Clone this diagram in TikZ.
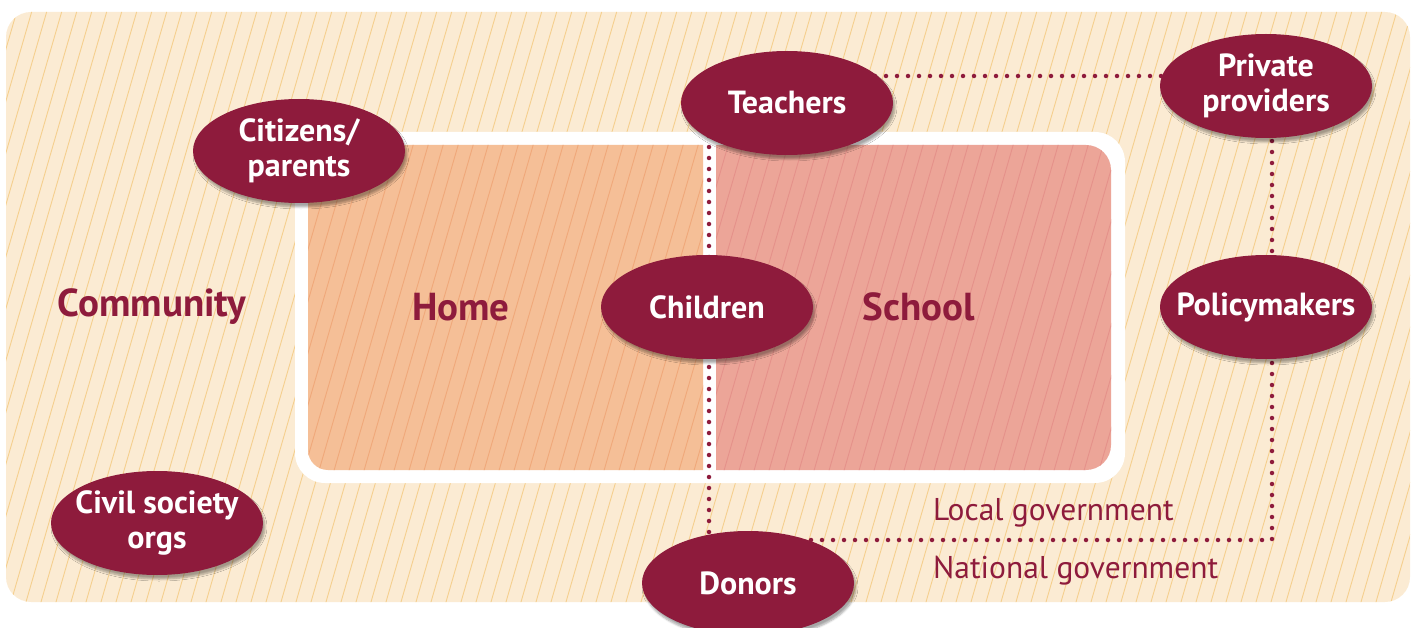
\documentclass[tikz,border=0pt]{standalone}
\usepackage{fontspec}
\setmainfont{PT Sans}
\usetikzlibrary{shapes.geometric,shadows.blur}
\definecolor{maroon}{HTML}{8E1B3C}
\definecolor{bgfill}{HTML}{FBEBD3}
\definecolor{bghatch}{HTML}{F5CF8E}
\definecolor{homefill}{HTML}{F5BF97}
\definecolor{homehatch}{HTML}{F0A87A}
\definecolor{schoolfill}{HTML}{ECA598}
\definecolor{schoolhatch}{HTML}{E5918A}
\newcommand\myhatch[1]{\foreach \i in {-14,...,95}{\draw[#1, line width=0.9pt] ({\i*15},640) -- ({\i*15+188},-10);}}
\begin{document}
\begin{tikzpicture}[x=1pt,y=-1pt,
 actor/.style={ellipse, fill=maroon, text=white, minimum width=212pt, minimum height=104pt,
   inner xsep=-40pt, inner ysep=-6pt, align=center,
   font=\fontsize{32}{35}\selectfont\bfseries,
   blur shadow={shadow xshift=2pt, shadow yshift=-4pt, shadow opacity=35, shadow blur steps=6}},
 area/.style={text=maroon, font=\fontsize{39}{42}\selectfont\bfseries},
 level/.style={text=maroon, font=\fontsize{31.5}{34}\selectfont, anchor=west, inner sep=0pt},
 dots/.style={maroon, line width=4.5pt, line cap=round, dash pattern=on 0pt off 11pt}]
\useasboundingbox (0,0) rectangle (1416,628);
% background
\begin{scope}
\clip[rounded corners=25pt] (6,12) rectangle (1410,602);
\fill[bgfill] (0,0) rectangle (1416,628);
\myhatch{bghatch}
\end{scope}
% white frame
\fill[white, rounded corners=30pt] (295,132) rectangle (1125,483);
% home
\begin{scope}
\clip (0,0) rectangle (703,628);
\clip[rounded corners=20pt] (308,145) rectangle (780,470);
\fill[homefill] (0,0) rectangle (1416,628);
\myhatch{homehatch}
\end{scope}
% school
\begin{scope}
\clip (716,0) rectangle (1416,628);
\clip[rounded corners=25pt] (640,145) rectangle (1111,470);
\fill[schoolfill] (0,0) rectangle (1416,628);
\myhatch{schoolhatch}
\end{scope}
% area labels
\node[area] (community) at (152,307) {Community};
\node[area] (home) at (461,307) {Home};
\node[area] (school) at (919,307) {School};
\node[level] (localgov) at (933,513) {Local government};
\node[level] (natgov) at (933,571) {National government};
% anchor points of the dotted connectors
\coordinate (c1) at (709,540);
\coordinate (c2) at (1272,540);
\coordinate (pTeachers) at (787,103);
\coordinate (pPrivate) at (1266,86);
\coordinate (pPolicy) at (1266,307);
% dotted connectors (behind the ellipses)
\draw[dots] (pTeachers -| c1) -- (c1) -- (c2) -- (pPolicy -| c2);
\draw[dots] (pTeachers |- 0,76) -- (pPrivate |- 0,76);
\draw[dots] (pPrivate -| c2) -- (pPolicy -| c2);
% actors
\node[actor] (Teachers) at (pTeachers) {Teachers};
\node[actor] (Private) at (pPrivate) {Private\\providers};
\node[actor] (Policymakers) at (pPolicy) {Policymakers};
\node[actor] (Citizens) at (299,151) {Citizens/\\parents};
\node[actor] (Children) at (707,307) {Children};
\node[actor] (Civil) at (157,523) {Civil society\\orgs};
\node[actor] (Donors) at (748,583) {Donors};
\end{tikzpicture}
\end{document}
